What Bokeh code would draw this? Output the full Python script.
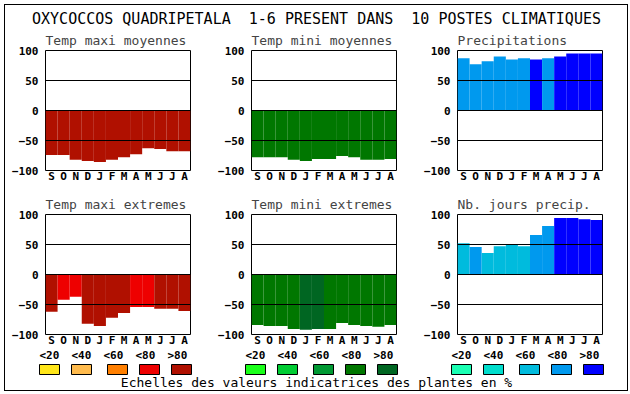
from bokeh.plotting import figure
from bokeh.layouts import column, row
from bokeh.models import Range1d, FixedTicker
from bokeh.core.properties import value
from bokeh.embed import file_html
from bokeh.resources import INLINE

# ---------------- data ----------------
main_title = "OXYCOCCOS QUADRIPETALA\u00a0 1-6 PRESENT DANS\u00a0 10 POSTES CLIMATIQUES"
caption = "Echelles des valeurs indicatrices des plantes en %"
months = ["S", "O", "N", "D", "J", "F", "M", "A", "M", "J", "J", "A"]
y_ticks = [-100, -50, 0, 50, 100]
class_labels = ["<20", "<40", "<60", "<80", ">80"]

red_pal = ["#FFE619", "#FFBB4D", "#FF7F00", "#EE0000", "#B01000"]
green_pal = ["#1AFF1A", "#00CC33", "#009933", "#007700", "#006622"]
blue_pal = ["#1AFFB3", "#00DDCC", "#00BBDD", "#0099EE", "#0000FF"]

tmax_moy = [-74, -74, -82, -84, -86, -82, -78, -73, -63, -64, -68, -68]
tmax_moy_cls = [5, 5, 5, 5, 5, 5, 5, 5, 5, 5, 5, 5]
tmin_moy = [-78, -78, -78, -82, -84, -81, -81, -76, -78, -82, -82, -81]
tmin_moy_cls = [4, 4, 4, 4, 4, 4, 4, 4, 4, 4, 4, 4]
precip = [87, 77, 82, 90, 85, 87, 85, 87, 90, 95, 95, 95]
precip_cls = [4, 4, 4, 4, 4, 4, 5, 4, 5, 5, 5, 5]
tmax_ext = [-62, -42, -37, -82, -86, -72, -64, -54, -54, -57, -57, -61]
tmax_ext_cls = [5, 4, 4, 5, 5, 5, 5, 4, 4, 5, 5, 5]
tmin_ext = [-84, -86, -86, -91, -92, -91, -91, -81, -84, -86, -87, -84]
tmin_ext_cls = [4, 4, 4, 4, 5, 5, 4, 4, 4, 4, 4, 4]
nb_jours = [52, 46, 36, 47, 49, 47, 66, 81, 94, 94, 92, 91]
nb_jours_cls = [3, 4, 3, 3, 3, 3, 4, 4, 5, 5, 5, 5]

# ---------------- layout constants ----------------
FONT = "DejaVu Sans Mono"
INNER_W = 622
PANEL_W = 206
BOX_L = 40
BOX_W = 145
EXTRA_R = INNER_W - 3 * PANEL_W


def panel(title, vals, cls, pal, height, top, bottom, last=False):
    right = PANEL_W - BOX_L - BOX_W + (EXTRA_R if last else 0)
    p = figure(width=BOX_L + BOX_W + right, height=height,
               x_range=Range1d(-0.5, 11.5), y_range=Range1d(-100, 100),
               output_backend="svg", toolbar_location=None,
               min_border_left=BOX_L, min_border_right=right,
               min_border_top=top, min_border_bottom=bottom,
               title=title)
    p.title.text_font = FONT
    p.title.text_font_size = "13px"
    p.title.text_font_style = "normal"
    p.title.align = "left"
    p.title.offset = 0
    p.title.standoff = 6
    p.outline_line_color = "black"
    p.outline_line_width = 1
    p.outline_line_alpha = 1
    p.background_fill_color = "white"
    p.border_fill_color = "white"
    colors = [pal[c - 1] for c in cls]
    p.vbar(x=list(range(len(months))), width=1.0, top=vals, bottom=0,
           fill_color=colors, line_color=None)
    # axes
    p.xaxis.ticker = FixedTicker(ticks=list(range(len(months))))
    p.xaxis.major_label_overrides = {i: m for i, m in enumerate(months)}
    p.yaxis.ticker = FixedTicker(ticks=y_ticks)
    for ax in (p.xaxis[0], p.yaxis[0]):
        ax.axis_line_color = None
        ax.major_tick_line_color = None
        ax.minor_tick_line_color = None
        ax.major_tick_out = 0
        ax.major_tick_in = 0
        ax.minor_tick_out = 0
        ax.major_label_text_font = FONT
        ax.major_label_text_font_size = "11px"
        ax.major_label_text_font_style = "bold"
        ax.major_label_text_color = "black"
    p.yaxis.major_label_standoff = 7
    p.xaxis.major_label_standoff = -1
    p.xgrid.visible = False
    p.ygrid.ticker = FixedTicker(ticks=y_ticks)
    p.ygrid.grid_line_color = "black"
    p.ygrid.grid_line_width = 1
    p.ygrid.grid_line_alpha = 1
    p.ygrid.level = "overlay"
    return p


R1_H, R1_T, R1_B = 164, 23, 21
R2_H, R2_T, R2_B = 159, 23, 16

p1 = panel("Temp maxi moyennes", tmax_moy, tmax_moy_cls, red_pal, R1_H, R1_T, R1_B)
p2 = panel("Temp mini moyennes", tmin_moy, tmin_moy_cls, green_pal, R1_H, R1_T, R1_B)
p3 = panel("Precipitations", precip, precip_cls, blue_pal, R1_H, R1_T, R1_B, last=True)
p4 = panel("Temp maxi extremes", tmax_ext, tmax_ext_cls, red_pal, R2_H, R2_T, R2_B)
p5 = panel("Temp mini extremes", tmin_ext, tmin_ext_cls, green_pal, R2_H, R2_T, R2_B)
p6 = panel("Nb. jours precip.", nb_jours, nb_jours_cls, blue_pal, R2_H, R2_T, R2_B, last=True)


def blank(h):
    f = figure(width=INNER_W, height=h, x_range=Range1d(0, INNER_W),
               y_range=Range1d(h, 0), output_backend="svg",
               toolbar_location=None, x_axis_location=None,
               y_axis_location=None, min_border=0)
    f.min_border_left = f.min_border_right = 0
    f.min_border_top = f.min_border_bottom = 0
    f.outline_line_color = None
    f.xgrid.visible = False
    f.ygrid.visible = False
    f.background_fill_color = "white"
    f.border_fill_color = "white"
    return f


HEAD_H = 22
head = blank(HEAD_H)
head.text(x=[INNER_W / 2], y=[13], text=[main_title], text_align="center",
          text_baseline="middle", text_font=value(FONT),
          text_font_size="15px", text_color="black")

LEG_H = 40
leg = blank(LEG_H)
palettes = [red_pal, green_pal, blue_pal]
label_off = [0, 32, 64, 96, 128]
box_off = [0, 32, 68, 100, 132]
lx, bl, br, bcol = [], [], [], []
for g, pal in enumerate(palettes):
    origin = BOX_L - 6 + g * PANEL_W
    for k in range(len(class_labels)):
        lx.append(origin + label_off[k])
        bl.append(origin + box_off[k])
        br.append(origin + box_off[k] + 20)
        bcol.append(pal[k])
leg.text(x=lx, y=[4.5] * len(lx), text=class_labels * 3, text_align="left",
         text_baseline="middle", text_font=value(FONT),
         text_font_size="11px", text_font_style="bold", text_color="black")
leg.quad(left=bl, right=br, top=[14] * len(bl), bottom=[24] * len(bl),
         fill_color=bcol, line_color="black", line_width=1)
leg.text(x=[INNER_W / 2], y=[32], text=[caption], text_align="center",
         text_baseline="middle", text_font=value(FONT),
         text_font_size="13px", text_color="black")

layout = column(head, row(p1, p2, p3, spacing=0), row(p4, p5, p6, spacing=0),
                leg, spacing=0, margin=(4, 0, 0, 4),
                styles={"border": "1px solid black"})

open("out.html", "w").write(file_html(layout, INLINE))
